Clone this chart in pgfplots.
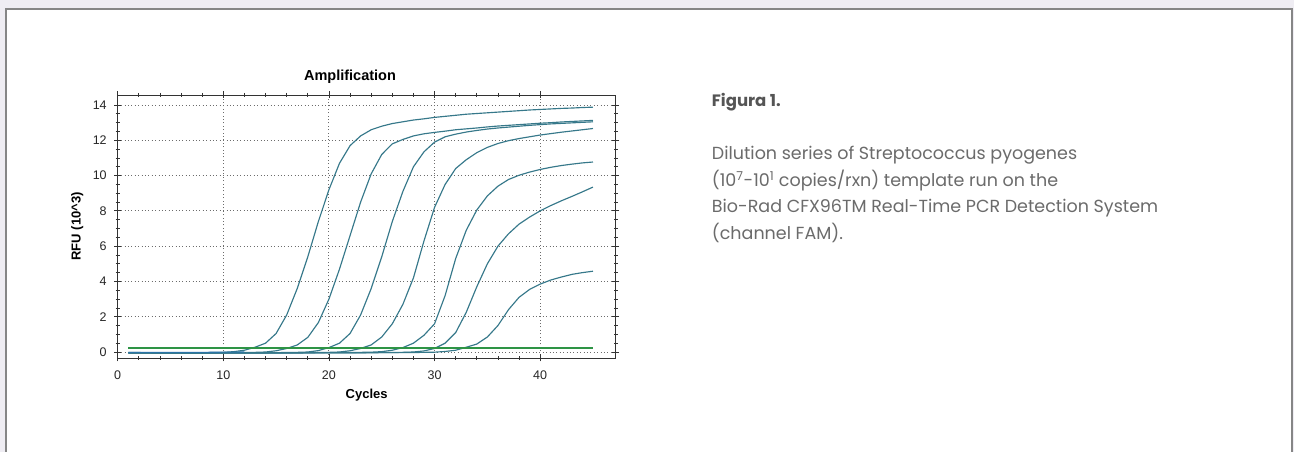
\documentclass[border=0pt]{standalone}
\usepackage{pgfplots}
\pgfplotsset{compat=1.18}
\usepackage{fontspec}
\setmainfont{Liberation Sans}
\newfontfamily\bodyfont{Poppins}
\definecolor{bgl}{HTML}{EFEDF3}
\definecolor{framec}{HTML}{868686}
\definecolor{curvecol}{HTML}{36788A}
\definecolor{basecol}{HTML}{2C74A8}
\definecolor{thrgreen}{HTML}{2E9445}
\definecolor{txt}{HTML}{6B6B6B}
\definecolor{figtxt}{HTML}{555555}
\begin{document}
\begin{tikzpicture}
\path[use as bounding box] (0pt,0pt) rectangle (1294pt,452pt);
\fill[bgl] (0pt,0pt) rectangle (1294pt,452pt);
\fill[white] (6pt,0pt) rectangle (1292pt,443pt);
\draw[framec, line width=1.6pt] (6pt,-5pt) -- (6pt,443pt) -- (1292pt,443pt) -- (1292pt,-5pt);
\begin{axis}[
  at={(117.7pt,94pt)}, anchor=south west,
  scale only axis, width=498pt, height=263pt,
  xmin=0, xmax=47.15, ymin=-0.34, ymax=14.57,
  xtick={0,10,20,30,40}, ytick={0,2,4,6,8,10,12,14},
  minor x tick num=4, minor y tick num=3,
  tick align=center, major tick length=7pt, minor tick length=4pt,
  every tick/.style={black!80, line width=0.8pt},
  axis line style={black!80, line width=0.9pt},
  grid=major,
  major grid style={gray!85!black, line width=0.9pt, dash pattern=on 1pt off 2.4pt},
  tick label style={font=\fontsize{12.5}{14}\selectfont, text=black!85},
  xticklabel style={yshift=-6pt},
  yticklabel style={xshift=-4pt},
  /pgf/number format/assume math mode=true,
  title={Amplification},
  title style={at={(axis description cs:0.4665,1.046)}, anchor=center, font=\bfseries\fontsize{14.5}{16}\selectfont},
  xlabel={Cycles},
  xlabel style={at={(axis description cs:0.5,-0.143)}, anchor=center, font=\bfseries\fontsize{13}{15}\selectfont},
  ylabel={RFU (10\textasciicircum 3)},
  ylabel style={at={(axis description cs:-0.0813,0.5)}, anchor=center, font=\bfseries\fontsize{13}{15}\selectfont},
]
\addplot[color=curvecol, line width=1.15pt] coordinates {(1,-0.04)(3,-0.05)(6,-0.05)(8,-0.04)(9,-0.03)(10,-0.02)(11,0.02)(12,0.1)(13,0.27)(14,0.5)(15,1.05)(16,2.1)(17,3.6)(18,5.4)(19,7.4)(20,9.2)(21,10.7)(22,11.7)(23,12.25)(24,12.6)(25,12.8)(26,12.95)(27,13.05)(28,13.15)(29,13.22)(30,13.3)(31,13.36)(32,13.42)(33,13.48)(34,13.52)(35,13.56)(36,13.6)(37,13.64)(38,13.68)(39,13.72)(40,13.75)(41,13.78)(42,13.81)(43,13.83)(44,13.86)(45,13.88)};
\addplot[color=curvecol, line width=1.15pt] coordinates {(1,-0.05)(5,-0.05)(10,-0.04)(12,-0.03)(13,-0.02)(14,0.0)(15,0.07)(16,0.2)(17,0.4)(18,0.83)(19,1.67)(20,3.0)(21,4.7)(22,6.6)(23,8.5)(24,10.1)(25,11.2)(26,11.8)(27,12.05)(28,12.25)(29,12.37)(30,12.45)(31,12.52)(32,12.6)(33,12.65)(34,12.7)(35,12.76)(36,12.81)(37,12.85)(38,12.89)(39,12.93)(40,12.97)(41,13.0)(42,13.04)(43,13.07)(44,13.1)(45,13.13)};
\addplot[color=curvecol, line width=1.15pt] coordinates {(1,-0.06)(5,-0.06)(10,-0.05)(14,-0.04)(16,-0.03)(17,-0.02)(18,0.0)(19,0.08)(20,0.25)(21,0.5)(22,1.05)(23,2.1)(24,3.6)(25,5.4)(26,7.4)(27,9.1)(28,10.5)(29,11.35)(30,11.9)(31,12.2)(32,12.35)(33,12.47)(34,12.56)(35,12.64)(36,12.7)(37,12.75)(38,12.8)(39,12.85)(40,12.89)(41,12.93)(42,12.96)(43,12.99)(44,13.02)(45,13.05)};
\addplot[color=curvecol, line width=1.15pt] coordinates {(1,-0.05)(10,-0.05)(15,-0.04)(19,-0.03)(20,-0.02)(21,0.0)(22,0.07)(23,0.2)(24,0.4)(25,0.85)(26,1.6)(27,2.7)(28,4.2)(29,6.3)(30,8.2)(31,9.5)(32,10.4)(33,10.9)(34,11.3)(35,11.6)(36,11.82)(37,11.98)(38,12.1)(39,12.2)(40,12.3)(41,12.38)(42,12.46)(43,12.53)(44,12.6)(45,12.67)};
\addplot[color=curvecol, line width=1.15pt] coordinates {(1,-0.04)(10,-0.05)(18,-0.04)(22,-0.03)(24,-0.01)(25,0.02)(26,0.1)(27,0.25)(28,0.5)(29,0.95)(30,1.6)(31,3.2)(32,5.3)(33,6.9)(34,8.05)(35,8.85)(36,9.4)(37,9.78)(38,10.02)(39,10.2)(40,10.35)(41,10.47)(42,10.57)(43,10.65)(44,10.72)(45,10.77)};
\addplot[color=curvecol, line width=1.15pt] coordinates {(1,-0.05)(10,-0.06)(20,-0.05)(26,-0.03)(27,-0.02)(28,0.0)(29,0.06)(30,0.2)(31,0.5)(32,1.1)(33,2.25)(34,3.7)(35,5.0)(36,6.0)(37,6.7)(38,7.25)(39,7.65)(40,8.0)(41,8.3)(42,8.57)(43,8.82)(44,9.08)(45,9.35)};
\addplot[color=curvecol, line width=1.15pt] coordinates {(1,-0.03)(10,-0.05)(20,-0.05)(28,-0.03)(30,-0.01)(31,0.03)(32,0.1)(33,0.27)(34,0.45)(35,0.85)(36,1.5)(37,2.4)(38,3.1)(39,3.55)(40,3.85)(41,4.08)(42,4.25)(43,4.4)(44,4.5)(45,4.58)};
\addplot[color=basecol, line width=1.1pt] coordinates {(1,-0.02)(8,-0.02)(12,0.0)};
\addplot[color=thrgreen, line width=1.9pt] coordinates {(1,0.25)(45,0.25)};
\end{axis}
\node[anchor=base west, font=\bodyfont\bfseries\fontsize{16.5}{19}\selectfont, text=figtxt, inner sep=0pt] at (711.7pt,345pt) {Figura 1.};
\node[anchor=base west, font=\bodyfont\fontsize{17.5}{20}\selectfont, text=txt, inner sep=0pt] at (711.7pt,292pt) {Dilution series of Streptococcus pyogenes};
\node[anchor=base west, font=\bodyfont\fontsize{17.5}{20}\selectfont, text=txt, inner sep=0pt] at (711.7pt,265pt) {(10\textsuperscript{7}-10\textsuperscript{1} copies/rxn) template run on the};
\node[anchor=base west, font=\bodyfont\fontsize{17.5}{20}\selectfont, text=txt, inner sep=0pt] at (711.7pt,239pt) {Bio-Rad CFX96TM Real-Time PCR Detection System};
\node[anchor=base west, font=\bodyfont\fontsize{17.5}{20}\selectfont, text=txt, inner sep=0pt] at (711.7pt,212pt) {(channel FAM).};
\end{tikzpicture}
\end{document}
